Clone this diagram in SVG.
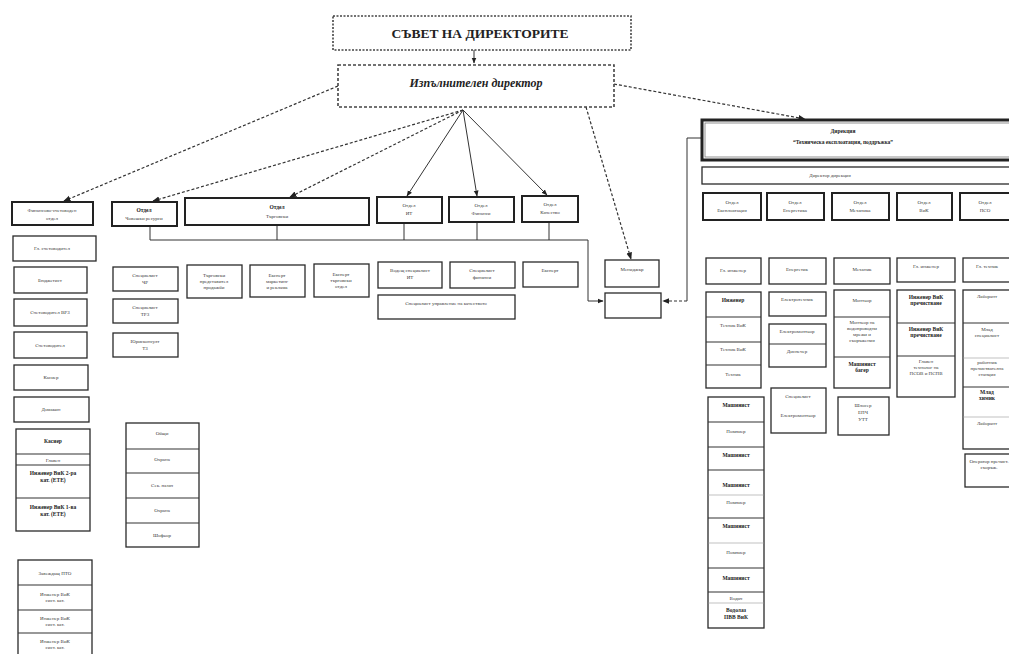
<svg xmlns="http://www.w3.org/2000/svg" width="1009" height="654" viewBox="0 0 1009 654">
<defs>
<style>
.b{fill:#fff;stroke:#2a2a2a;stroke-width:1.3}
.bt{fill:#fff;stroke:#222;stroke-width:2}
.dv{stroke:#333;stroke-width:1.2}
.t{font-family:"Liberation Serif",serif;font-size:5px;fill:#3a3a3a;text-anchor:middle}
.th{font-family:"Liberation Serif",serif;font-size:5.5px;fill:#222;text-anchor:middle;font-weight:bold}
.c{fill:none;stroke:#333;stroke-width:1}
.cd{fill:none;stroke:#333;stroke-width:1.2;stroke-dasharray:3 2}
</style>
<marker id="a" viewBox="0 0 10 10" refX="9" refY="5" markerWidth="6" markerHeight="6" orient="auto"><path d="M0,1 L10,5 L0,9 z" fill="#222"/></marker>
</defs>
<rect width="1009" height="654" fill="#fff"/>

<g id="connectors">
<line class="c" x1="474" y1="50" x2="474" y2="63" marker-end="url(#a)"/>
<line class="cd" x1="338" y1="86" x2="64" y2="201" marker-end="url(#a)"/>
<line class="cd" x1="463" y1="110" x2="153" y2="201" marker-end="url(#a)"/>
<line class="cd" x1="463" y1="110" x2="290" y2="197" marker-end="url(#a)"/>
<line class="c" x1="463" y1="110" x2="407" y2="196" marker-end="url(#a)"/>
<line class="c" x1="463" y1="110" x2="477" y2="196" marker-end="url(#a)"/>
<line class="c" x1="463" y1="110" x2="547" y2="195" marker-end="url(#a)"/>
<line class="cd" x1="586" y1="107" x2="631" y2="259" marker-end="url(#a)"/>
<line class="cd" x1="614" y1="84" x2="805" y2="119" marker-end="url(#a)"/>
<polyline class="c" points="150,226 150,240 588,240 588,301 603,301" marker-end="url(#a)"/>
<line class="c" x1="277" y1="225" x2="277" y2="240"/>
<line class="c" x1="404" y1="223" x2="404" y2="240"/>
<line class="c" x1="477" y1="222" x2="477" y2="240"/>
<line class="c" x1="549" y1="222" x2="549" y2="240"/>
<polyline class="c" points="702,138 687,138 687,301"/>
<line class="cd" x1="687" y1="301" x2="663" y2="301" marker-end="url(#a)"/>
</g>

<g id="council">
<rect x="333" y="16" width="298" height="34" fill="#fff" stroke="#444" stroke-width="1.6" stroke-dasharray="2 1.5"/>
<text x="480" y="38" font-family="Liberation Serif,serif" font-size="13.5" font-weight="bold" text-anchor="middle" fill="#222">СЪВЕТ НА ДИРЕКТОРИТЕ</text>
</g>
<g id="exec">
<rect x="338" y="65" width="276" height="42" fill="#fff" stroke="#444" stroke-width="1.6" stroke-dasharray="3 2"/>
<text x="476" y="87" font-family="Liberation Serif,serif" font-size="12" font-style="italic" font-weight="bold" text-anchor="middle" fill="#222">Изпълнителен директор</text>
</g>

<g id="fin"><rect class="bt" x="12" y="202" width="81" height="23"/><text class="t" x="52" y="212">Финансово-счетоводен</text><text class="t" x="52" y="220">отдел</text></g>
<g id="l1"><rect class="b" x="13" y="236" width="83" height="25"/><text class="t" x="52" y="250">Гл. счетоводител</text></g>
<g id="l2"><rect class="b" x="14" y="267" width="73" height="26"/><text class="t" x="50" y="282">Бюджетист</text></g>
<g id="l3"><rect class="b" x="14" y="299" width="73" height="27"/><text class="t" x="50" y="314">Счетоводител ВРЗ</text></g>
<g id="l4"><rect class="b" x="14" y="332" width="73" height="26"/><text class="t" x="50" y="347">Счетоводител</text></g>
<g id="l5"><rect class="b" x="14" y="365" width="74" height="25"/><text class="t" x="51" y="379">Касиер</text></g>
<g id="l6"><rect class="b" x="14" y="397" width="75" height="25"/><text class="t" x="51" y="411">Домакин</text></g>
<g id="l7"><rect class="b" x="16" y="429" width="74" height="102"/>
<line class="dv" x1="16" y1="454" x2="90" y2="454"/><line class="dv" x1="16" y1="465" x2="90" y2="465"/><line class="dv" x1="16" y1="498" x2="90" y2="498"/>
<text class="th" x="53" y="443">Касиер</text><text class="t" x="53" y="462">Главен</text>
<text class="th" x="53" y="475">Инженер ВиК 2-ра</text><text class="th" x="53" y="482">кат. (ЕТЕ)</text>
<text class="th" x="53" y="509">Инженер ВиК 1-ва</text><text class="th" x="53" y="516">кат. (ЕТЕ)</text></g>
<g id="l8"><rect class="b" x="18" y="560" width="74" height="96"/>
<line class="dv" x1="18" y1="585" x2="92" y2="585"/><line class="dv" x1="18" y1="610" x2="92" y2="610"/><line class="dv" x1="18" y1="633" x2="92" y2="633"/>
<text class="t" x="55" y="575">Завеждащ ПТО</text>
<text class="t" x="55" y="596">Инженер ВиК</text><text class="t" x="55" y="602">сист. кат.</text>
<text class="t" x="55" y="620">Инженер ВиК</text><text class="t" x="55" y="626">сист. кат.</text>
<text class="t" x="55" y="643">Инженер ВиК</text><text class="t" x="55" y="649">сист. кат.</text></g>

<g id="hr"><rect class="bt" x="112" y="202" width="65" height="24"/><text class="th" x="144" y="212">Отдел</text><text class="t" x="144" y="220">Човешки ресурси</text></g>
<g id="hr1"><rect class="b" x="113" y="267" width="65" height="24"/><text class="t" x="145" y="277">Специалист</text><text class="t" x="145" y="284">ЧР</text></g>
<g id="hr2"><rect class="b" x="113" y="299" width="65" height="24"/><text class="t" x="145" y="309">Специалист</text><text class="t" x="145" y="316">ТРЗ</text></g>
<g id="hr3"><rect class="b" x="113" y="333" width="65" height="24"/><text class="t" x="145" y="343">Юрисконсулт</text><text class="t" x="145" y="350">ТЗ</text></g>
<g id="hr4"><rect class="b" x="126" y="423" width="73" height="124"/>
<line class="dv" x1="126" y1="449" x2="199" y2="449"/><line class="dv" x1="126" y1="473" x2="199" y2="473"/><line class="dv" x1="126" y1="498" x2="199" y2="498"/><line class="dv" x1="126" y1="523" x2="199" y2="523"/>
<text class="t" x="162" y="435">Общи</text><text class="t" x="162" y="461">Охрана</text><text class="t" x="162" y="487">Сек. пазач</text><text class="t" x="162" y="512">Охрана</text><text class="t" x="162" y="537">Шофьор</text></g>

<g id="trade"><rect class="bt" x="185" y="198" width="184" height="27"/><text class="th" x="277" y="209">Отдел</text><text class="t" x="277" y="218">Търговски</text></g>
<g id="tr1"><rect class="b" x="187" y="265" width="55" height="33"/><text class="t" x="214" y="277">Търговски</text><text class="t" x="214" y="283">представител</text><text class="t" x="214" y="289">продажби</text></g>
<g id="tr2"><rect class="b" x="250" y="265" width="55" height="32"/><text class="t" x="277" y="277">Експерт</text><text class="t" x="277" y="283">маркетинг</text><text class="t" x="277" y="289">и реклама</text></g>
<g id="tr3"><rect class="b" x="314" y="264" width="55" height="33"/><text class="t" x="341" y="276">Експерт</text><text class="t" x="341" y="282">търговски</text><text class="t" x="341" y="288">отдел</text></g>

<g id="it"><rect class="bt" x="377" y="197" width="65" height="26"/><text class="t" x="409" y="207">Отдел</text><text class="t" x="409" y="215">ИТ</text></g>
<g id="fn"><rect class="bt" x="449" y="197" width="65" height="25"/><text class="t" x="481" y="207">Отдел</text><text class="t" x="481" y="215">Финанси</text></g>
<g id="qa"><rect class="bt" x="522" y="196" width="56" height="26"/><text class="t" x="550" y="206">Отдел</text><text class="t" x="550" y="214">Качество</text></g>
<g id="it1"><rect class="b" x="378" y="262" width="64" height="26"/><text class="t" x="410" y="272">Водещ специалист</text><text class="t" x="410" y="279">ИТ</text></g>
<g id="fn1"><rect class="b" x="450" y="262" width="65" height="26"/><text class="t" x="482" y="272">Специалист</text><text class="t" x="482" y="279">финанси</text></g>
<g id="qa1"><rect class="b" x="523" y="262" width="55" height="25"/><text class="t" x="550" y="272">Експерт</text></g>
<g id="qa2"><rect class="b" x="378" y="295" width="137" height="24"/><text class="t" x="446" y="305">Специалист управление на качеството</text></g>

<g id="mgr"><rect class="b" x="605" y="260" width="54" height="27"/><text class="t" x="632" y="271">Мениджър</text></g>
<g id="empty"><rect class="b" x="605" y="293" width="56" height="25"/></g>

<g id="dir"><rect x="702" y="120" width="310" height="40" fill="#fff" stroke="#222" stroke-width="3"/><rect x="705" y="123" width="310" height="34" fill="none" stroke="#777" stroke-width="0.8"/>
<text class="th" x="843" y="133">Дирекция</text><text class="th" x="843" y="144">“Техническа експлоатация, поддръжка”</text></g>
<g id="dir2"><rect class="b" x="702" y="167" width="310" height="17"/><text class="t" x="830" y="177">Директор дирекция</text></g>

<g id="r1"><rect class="bt" x="703" y="193" width="58" height="27"/><text class="t" x="732" y="204">Отдел</text><text class="t" x="732" y="212">Експлоатация</text></g>
<g id="r2"><rect class="bt" x="767" y="193" width="57" height="27"/><text class="t" x="795" y="204">Отдел</text><text class="t" x="795" y="212">Енергетика</text></g>
<g id="r3"><rect class="bt" x="832" y="193" width="57" height="27"/><text class="t" x="860" y="204">Отдел</text><text class="t" x="860" y="212">Механика</text></g>
<g id="r4"><rect class="bt" x="897" y="193" width="55" height="27"/><text class="t" x="924" y="204">Отдел</text><text class="t" x="924" y="212">ВиК</text></g>
<g id="r5"><rect class="bt" x="960" y="193" width="52" height="27"/><text class="t" x="985" y="204">Отдел</text><text class="t" x="985" y="212">ПСО</text></g>

<g id="c1a"><rect class="b" x="706" y="258" width="55" height="26"/><text class="t" x="733" y="272">Гл. инженер</text></g>
<g id="c1b"><rect class="b" x="706" y="292" width="55" height="96"/>
<line class="dv" x1="706" y1="317" x2="761" y2="317"/><line class="dv" x1="706" y1="342" x2="761" y2="342"/><line class="dv" x1="706" y1="365" x2="761" y2="365"/>
<text class="th" x="733" y="302">Инженер</text><text class="t" x="733" y="327">Техник ВиК</text><text class="t" x="733" y="351">Техник ВиК</text><text class="t" x="733" y="376">Техник</text></g>
<g id="c1c"><rect class="b" x="708" y="397" width="56" height="231"/>
<line class="dv" x1="708" y1="422" x2="764" y2="422"/><line class="dv" x1="708" y1="447" x2="764" y2="447"/><line class="dv" x1="708" y1="470" x2="764" y2="470"/><line class="dv" x1="708" y1="518" x2="764" y2="518"/><line class="dv" x1="708" y1="568" x2="764" y2="568"/><line class="dv" x1="708" y1="592" x2="764" y2="592"/>
<line x1="708" y1="495" x2="764" y2="495" stroke="#999" stroke-width="0.6"/><line x1="708" y1="543" x2="764" y2="543" stroke="#999" stroke-width="0.6"/><line x1="708" y1="603" x2="764" y2="603" stroke="#999" stroke-width="0.6"/>
<text class="th" x="736" y="407">Машинист</text><text class="t" x="736" y="433">Помпиер</text><text class="th" x="736" y="457">Машинист</text><text class="th" x="736" y="487">Машинист</text><text class="t" x="736" y="504">Помпиер</text><text class="th" x="736" y="528">Машинист</text><text class="t" x="736" y="554">Помпиер</text><text class="th" x="736" y="580">Машинист</text><text class="t" x="736" y="600">Водач</text><text class="th" x="736" y="612">Водолаз</text><text class="th" x="736" y="619">ПВВ ВиК</text></g>

<g id="c2a"><rect class="b" x="769" y="258" width="57" height="26"/><text class="t" x="797" y="271">Енергетик</text></g>
<g id="c2b"><rect class="b" x="769" y="292" width="57" height="24"/><text class="t" x="797" y="301">Електротехник</text></g>
<g id="c2c"><rect class="b" x="769" y="324" width="57" height="43"/><line class="dv" x1="769" y1="344" x2="826" y2="344"/><text class="t" x="797" y="333">Електромонтьор</text><text class="t" x="797" y="353">Диспечер</text></g>
<g id="c2d"><rect class="b" x="771" y="388" width="55" height="45"/><text class="t" x="798" y="398">Специалист</text><text class="t" x="798" y="417">Електромонтьор</text></g>

<g id="c3a"><rect class="b" x="834" y="258" width="56" height="26"/><text class="t" x="862" y="271">Механик</text></g>
<g id="c3b"><rect class="b" x="834" y="290" width="56" height="98"/><line class="dv" x1="834" y1="317" x2="890" y2="317"/><line class="dv" x1="834" y1="357" x2="890" y2="357"/>
<text class="t" x="862" y="302">Монтьор</text><text class="t" x="862" y="324">Монтьор на</text><text class="t" x="862" y="330">водопроводни</text><text class="t" x="862" y="336">мрежи и</text><text class="t" x="862" y="342">съоръжения</text>
<text class="th" x="862" y="366">Машинист</text><text class="th" x="862" y="372">багер</text></g>
<g id="c3c"><rect class="b" x="838" y="397" width="51" height="38"/><text class="t" x="863" y="407">Шлосер</text><text class="t" x="863" y="414">ЕПЧ</text><text class="t" x="863" y="421">УТТ</text></g>

<g id="c4a"><rect class="b" x="897" y="258" width="58" height="24"/><text class="t" x="926" y="268">Гл. инженер</text></g>
<g id="c4b"><rect class="b" x="897" y="290" width="58" height="107"/><line class="dv" x1="897" y1="323" x2="955" y2="323"/><line class="dv" x1="897" y1="356" x2="955" y2="356"/>
<text class="th" x="926" y="299">Инженер ВиК</text><text class="th" x="926" y="305">пречистване</text>
<text class="th" x="926" y="331">Инженер ВиК</text><text class="th" x="926" y="337">пречистване</text>
<text class="t" x="926" y="363">Главен</text><text class="t" x="926" y="369">технолог на</text><text class="t" x="926" y="375">ПСОВ и ПСПВ</text></g>

<g id="c5a"><rect class="b" x="963" y="258" width="50" height="24"/><text class="t" x="987" y="268">Гл. техник</text></g>
<g id="c5b"><rect class="b" x="963" y="290" width="50" height="159"/><line class="dv" x1="963" y1="323" x2="1013" y2="323"/><line x1="963" y1="358" x2="1013" y2="358" stroke="#999" stroke-width="0.6"/><line class="dv" x1="963" y1="387" x2="1013" y2="387"/><line x1="963" y1="417" x2="1013" y2="417" stroke="#999" stroke-width="0.6"/>
<text class="t" x="987" y="298">Лаборант</text><text class="t" x="987" y="331">Млад</text><text class="t" x="987" y="337">специалист</text>
<text class="t" x="987" y="364">работник</text><text class="t" x="987" y="370">пречиствателна</text><text class="t" x="987" y="376">станция</text>
<text class="th" x="987" y="394">Млад</text><text class="th" x="987" y="400">химик</text><text class="t" x="987" y="425">Лаборант</text></g>
<g id="c5c"><rect class="b" x="965" y="454" width="48" height="33"/><text class="t" x="989" y="463">Оператор пречист.</text><text class="t" x="989" y="469">съоръж.</text></g>
</svg>
